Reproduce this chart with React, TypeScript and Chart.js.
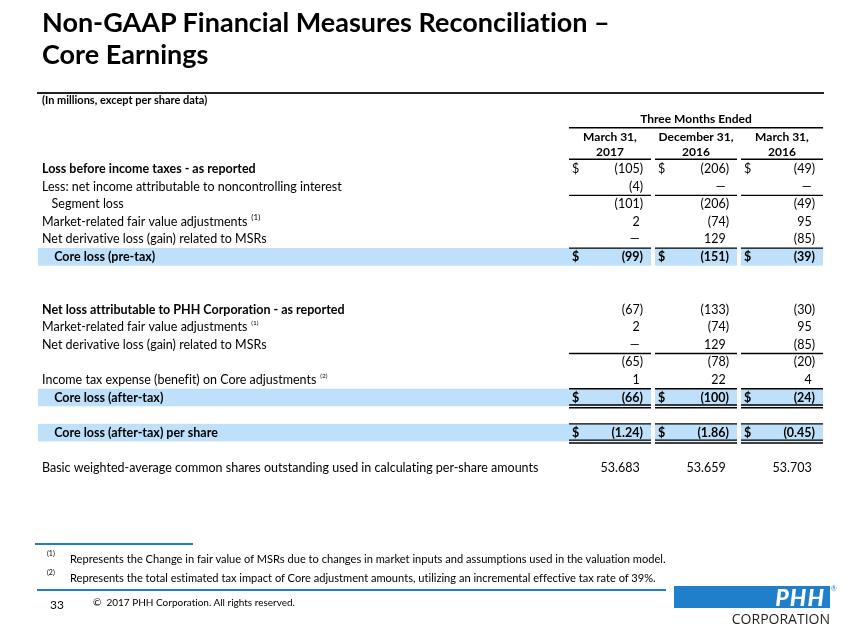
import React, { useEffect, useRef } from "react";
import { Chart, registerables } from "chart.js";

Chart.register(...registerables);

// ---------- data ----------
const periodTitle = "Three Months Ended";
const columnHeaders = [
  ["March 31,", "2017"],
  ["December 31,", "2016"],
  ["March 31,", "2016"],
];
const rowLabels = [
  "Loss before income taxes - as reported",
  "Less: net income attributable to noncontrolling interest",
  "Segment loss",
  "Market-related fair value adjustments",
  "Net derivative loss (gain) related to MSRs",
  "Core loss (pre-tax)",
  "",
  "",
  "Net loss attributable to PHH Corporation - as reported",
  "Market-related fair value adjustments",
  "Net derivative loss (gain) related to MSRs",
  "",
  "Income tax expense (benefit) on Core adjustments",
  "Core loss (after-tax)",
  "",
  "Core loss (after-tax) per share",
  "",
  "Basic weighted-average common shares outstanding used in calculating per-share amounts",
];
const march2017 = [-105, -4, -101, 2, 0, -99, null, null, -67, 2, 0, -65, 1, -66, null, -1.24, null, 53.683];
const december2016 = [-206, 0, -206, -74, 129, -151, null, null, -133, -74, 129, -78, 22, -100, null, -1.86, null, 53.659];
const march2016 = [-49, 0, -49, 95, -85, -39, null, null, -30, 95, -85, -20, 4, -24, null, -0.45, null, 53.703];
const columnValues = [march2017, december2016, march2016];

// row roles
const boldLabelRows = [0, 5, 8, 13, 15];
const boldValueRows = [5, 13, 15];
const dollarRows = [0, 5, 13, 15];
const highlightRows = [5, 13, 15];
const ruleAboveRows = [2, 5, 11, 13, 15];
const doubleRuleBelowRows = [13, 15];
const footnoteRefs: Record<number, string> = { 3: "(1)", 9: "(1)", 12: "(2)" };
const decimalsByRow: Record<number, number> = { 15: 2, 17: 3 };

const footnotes = [
  ["(1)", "Represents the Change in fair value of MSRs due to changes in market inputs and assumptions used in the valuation model."],
  ["(2)", "Represents the total estimated tax impact of Core adjustment amounts, utilizing an incremental effective tax rate of 39%."],
];

// ---------- styles ----------
const FONT = "Lato, 'Open Sans', sans-serif";
const HIGHLIGHT = "#BEE0FA";
const BLUE = "#1F7FCB";
const LABEL_SIZE = 12.5;
const VALUE_SIZE = 12.5;

function indentFor(i: number) {
  if (i === 2) return "   ";
  if (highlightRows.includes(i)) return "    ";
  return "";
}

function fmt(v: number, r: number) {
  const d = decimalsByRow[r] ?? 0;
  if (v === 0) return "\u2014";
  const s = Math.abs(v).toFixed(d);
  return v < 0 ? `(${s})` : s;
}

const tablePlugin = {
  id: "tablePlugin",
  beforeDraw(chart: any) {
    const { ctx, scales } = chart;
    try {
      (ctx as any).textRendering = "optimizeSpeed";
    } catch (e) {}
    const x = scales.x;
    const y = scales.y;
    const pitch = y.getPixelForValue(1) - y.getPixelForValue(0);
    const half = (x.getPixelForValue(1) - x.getPixelForValue(0)) / 2 - 2;
    ctx.save();
    ctx.fillStyle = HIGHLIGHT;
    highlightRows.forEach((r) => {
      const cy = y.getPixelForValue(r);
      for (let c = 0; c < columnHeaders.length; c++) {
        const cx = x.getPixelForValue(c);
        const left = c === 0 ? y.left - 4 : cx - half;
        ctx.fillRect(left, cy - pitch / 2, cx + half - left, pitch);
      }
    });
    ctx.restore();
  },
  afterDraw(chart: any) {
    const { ctx, scales, chartArea } = chart;
    const x = scales.x;
    const y = scales.y;
    const nCols = columnHeaders.length;
    const pitch = y.getPixelForValue(1) - y.getPixelForValue(0);
    const colW = x.getPixelForValue(1) - x.getPixelForValue(0);
    const half = colW / 2 - 2;
    ctx.save();
    ctx.strokeStyle = "#000";
    ctx.lineWidth = 1.4;
    const seg = (yy: number, c: number) => {
      const cx = x.getPixelForValue(c);
      ctx.beginPath();
      ctx.moveTo(cx - half, yy);
      ctx.lineTo(cx + half, yy);
      ctx.stroke();
    };
    // period title rule
    ctx.beginPath();
    ctx.moveTo(x.getPixelForValue(0) - half, chartArea.top - 32.5);
    ctx.lineTo(x.getPixelForValue(nCols - 1) + half, chartArea.top - 32.5);
    ctx.stroke();
    for (let c = 0; c < nCols; c++) {
      seg(chartArea.top - 1, c);
      ruleAboveRows.forEach((r) => seg(y.getPixelForValue(r) - pitch / 2, c));
      doubleRuleBelowRows.forEach((r) => {
        const b = y.getPixelForValue(r) + pitch / 2;
        seg(b - 1.3, c);
        seg(b + 1.5, c);
      });
    }
    // values
    ctx.fillStyle = "#000";
    ctx.textBaseline = "middle";
    for (let c = 0; c < nCols; c++) {
      const cx = x.getPixelForValue(c);
      const vals = columnValues[c];
      vals.forEach((v, r) => {
        if (v === null || v === undefined) return;
        const cy = y.getPixelForValue(r);
        const bold = boldValueRows.includes(r);
        ctx.font = `${bold ? "bold" : "normal"} ${VALUE_SIZE}px ${FONT}`;
        const paren = ctx.measureText(")").width;
        let right = cx + 33;
        if (!(v < 0)) right -= paren;
        ctx.textAlign = "right";
        ctx.fillText(fmt(v, r), right, cy);
        if (dollarRows.includes(r)) {
          ctx.textAlign = "left";
          ctx.fillText("$", cx - 38, cy);
        }
      });
    }
    // footnote markers on labels
    Object.keys(footnoteRefs).forEach((k) => {
      const r = Number(k);
      const bold = boldLabelRows.includes(r);
      ctx.font = `${bold ? "bold" : "normal"} ${LABEL_SIZE}px ${FONT}`;
      const w = ctx.measureText(indentFor(r) + rowLabels[r]).width;
      const size = r === 3 ? 8 : 6.5;
      ctx.font = `normal ${size}px ${FONT}`;
      ctx.textAlign = "left";
      ctx.fillText(footnoteRefs[r], y.left + w + 4, y.getPixelForValue(r) - 4);
    });
    ctx.restore();
  },
};

export default function App() {
  const ref = useRef<HTMLCanvasElement>(null);
  useEffect(() => {
    const canvas = ref.current;
    if (!canvas) return;
    const chart = new Chart(canvas, {
      type: "bar",
      data: { labels: columnHeaders as any, datasets: [] },
      plugins: [tablePlugin],
      options: {
        responsive: false,
        animation: false,
        events: [],
        layout: { padding: { left: 42, right: 36, top: 111.2, bottom: 158.4 } },
        plugins: { legend: { display: false }, tooltip: { enabled: false }, title: { display: false } },
        scales: {
          x: {
            type: "category",
            position: "top",
            offset: true,
            grid: { display: false, drawTicks: false },
            border: { display: false },
            ticks: {
              padding: 0,
              maxRotation: 0,
              autoSkip: false,
              color: "#000",
              font: { family: FONT, size: 12, weight: "bold", lineHeight: 1.3 },
            },
            title: {
              display: true,
              text: periodTitle,
              color: "#000",
              padding: 0,
              font: { family: FONT, size: 12, weight: "bold", lineHeight: 1.3 },
            },
            afterFit: (s: any) => {
              s.height = 49;
            },
          },
          y: {
            type: "category",
            position: "left",
            labels: rowLabels,
            offset: true,
            grid: { display: false, drawTicks: false },
            border: { display: false },
            ticks: {
              autoSkip: false,
              crossAlign: "far",
              padding: 0,
              color: "#000",
              callback: (_v: any, i: number) => indentFor(i) + rowLabels[i],
              font: (c: any) => ({
                family: FONT,
                size: LABEL_SIZE,
                weight: boldLabelRows.includes(c.index) ? "bold" : "normal",
              }),
            },
            afterFit: (s: any) => {
              s.width = 525;
            },
          },
        },
      } as any,
    });
    return () => chart.destroy();
  }, []);

  return (
    <div
      style={{
        position: "absolute",
        left: 0,
        top: 0,
        width: 861,
        height: 635,
        background: "#fff",
        overflow: "hidden",
        fontFamily: FONT,
        color: "#000",
        fontVariantLigatures: "none",
      }}
    >
      <canvas ref={ref} width={861} height={635} style={{ position: "absolute", left: 0, top: 0, width: 861, height: 635 }} />
      <div style={{ position: "absolute", left: 42, top: 6, fontSize: 27, fontWeight: 700, lineHeight: "32px", whiteSpace: "nowrap" }}>
        Non-GAAP Financial Measures Reconciliation –<br />
        Core Earnings
      </div>
      <div style={{ position: "absolute", left: 37, top: 92, width: 787, height: 2, background: "#222" }} />
      <div style={{ position: "absolute", left: 42, top: 93, fontSize: 11, fontWeight: 700, lineHeight: "13px", whiteSpace: "nowrap" }}>
        (In millions, except per share data)
      </div>

      <div style={{ position: "absolute", left: 35, top: 543, width: 158, height: 2, background: BLUE }} />
      {footnotes.map((f, i) => (
        <React.Fragment key={i}>
          <div style={{ position: "absolute", left: 47, top: 549 + i * 19, fontSize: 7, lineHeight: "9px" }}>{f[0]}</div>
          <div style={{ position: "absolute", left: 70, top: 552 + i * 19, fontSize: 11.1, lineHeight: "14px", whiteSpace: "nowrap" }}>{f[1]}</div>
        </React.Fragment>
      ))}
      <div style={{ position: "absolute", left: 37, top: 589, width: 629, height: 2, background: BLUE }} />
      <div style={{ position: "absolute", left: 50, top: 598, fontSize: 12, lineHeight: "14px" }}>33</div>
      <div style={{ position: "absolute", left: 93, top: 596, fontSize: 10, lineHeight: "12px", whiteSpace: "nowrap" }}>
        ©&nbsp; 2017 PHH Corporation. All rights reserved.
      </div>

      <div
        style={{
          position: "absolute",
          left: 674,
          top: 586,
          width: 156,
          height: 22,
          background: BLUE,
          color: "#fff",
          fontStyle: "italic",
          fontWeight: 900,
          fontSize: 23,
          lineHeight: "22px",
          textAlign: "right",
          boxSizing: "border-box",
          paddingRight: 5,
          letterSpacing: 1,
        }}
      >
        PHH
      </div>
      <div style={{ position: "absolute", left: 831, top: 584, fontSize: 7, color: BLUE, lineHeight: "8px" }}>®</div>
      <div
        style={{
          position: "absolute",
          left: 720,
          top: 611,
          width: 110,
          fontSize: 14,
          lineHeight: "16px",
          color: "#231F20",
          fontFamily: "'Open Sans', sans-serif",
          textAlign: "right",
          whiteSpace: "nowrap",
        }}
      >
        CORPORATION
      </div>
    </div>
  );
}
